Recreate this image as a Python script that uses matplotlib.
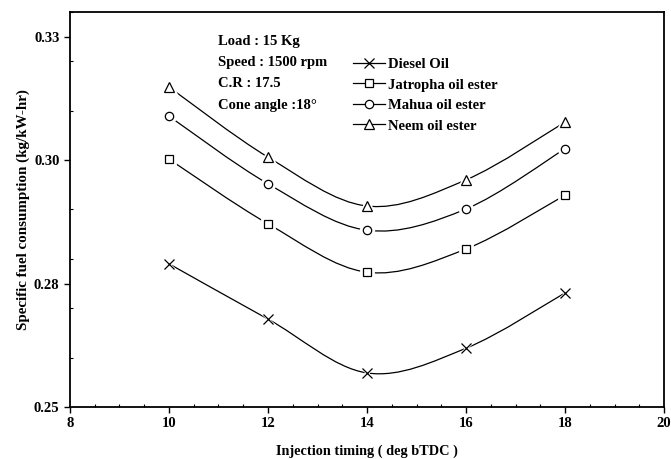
import matplotlib
matplotlib.use('Agg')
import matplotlib.pyplot as plt
import numpy as np
from matplotlib.path import Path
from matplotlib.patches import PathPatch
from matplotlib.lines import Line2D
from matplotlib.ticker import MultipleLocator

timing = [10, 12, 14, 16, 18]
diesel = [0.2790, 0.2678, 0.2569, 0.2619, 0.2731]
jatropha = [0.3002, 0.2871, 0.2773, 0.2820, 0.2929]
mahua = [0.3089, 0.2952, 0.2858, 0.2901, 0.3023]
neem = [0.3148, 0.3006, 0.2907, 0.2960, 0.3077]

series = [
    ('Diesel Oil', diesel, 'x'),
    ('Jatropha oil ester', jatropha, 's'),
    ('Mahua oil ester', mahua, 'o'),
    ('Neem oil ester', neem, '^'),
]

y_ticks = [0.25, 0.275, 0.30, 0.325]
y_labels = ['0.25', '0.28', '0.30', '0.33']
notes = ['Load : 15 Kg', 'Speed : 1500 rpm', 'C.R : 17.5', 'Cone angle :18°']

plt.rcParams['font.family'] = ['Liberation Serif', 'DejaVu Serif']
plt.rcParams['font.weight'] = 'bold'


def smooth_path(x, y, t=1.0 / 6):
    # catmull-rom style bezier through the points
    x = np.asarray(x, float)
    y = np.asarray(y, float)
    n = len(x)
    verts = [(x[0], y[0])]
    codes = [Path.MOVETO]
    for i in range(n - 1):
        i0 = max(i - 1, 0)
        i3 = min(i + 2, n - 1)
        c1 = (x[i] + (x[i + 1] - x[i0]) * t, y[i] + (y[i + 1] - y[i0]) * t)
        c2 = (x[i + 1] - (x[i3] - x[i]) * t, y[i + 1] - (y[i3] - y[i]) * t)
        verts += [c1, c2, (x[i + 1], y[i + 1])]
        codes += [Path.CURVE4] * 3
    return Path(verts, codes)


fig = plt.figure(figsize=(6.71, 4.59), dpi=100)
ax = fig.add_axes([0.1043, 0.1133, 0.8853, 0.8606])

sizes = {'x': 6.5, 's': 6, 'o': 6, '^': 6.5}
handles = []
for name, vals, mk in series:
    ax.add_patch(PathPatch(smooth_path(timing, vals), facecolor='none',
                           edgecolor='black', lw=0.9, zorder=2))
    ms = sizes[mk]
    ax.plot(timing, vals, ls='none', marker=mk, ms=ms + 3, mfc='white',
            mec='white', mew=2, zorder=3)
    ax.plot(timing, vals, ls='none', marker=mk, ms=ms, mfc='white',
            mec='black', mew=0.9, zorder=4)
    handles.append(Line2D([], [], color='black', lw=0.9, marker=mk, ms=ms,
                          mfc='white', mec='black', mew=0.9))

ax.set_xlim(8, 20)
ax.set_ylim(0.25, 0.33)
ax.xaxis.set_major_locator(MultipleLocator(2))
ax.xaxis.set_minor_locator(MultipleLocator(0.5))
ax.set_yticks(y_ticks)
ax.set_yticklabels(y_labels)
ax.yaxis.set_minor_locator(MultipleLocator(0.01))
ax.tick_params(which='major', direction='out', length=4, width=1,
               labelsize=10.5, top=False, right=False)
ax.tick_params(which='minor', direction='in', length=2.5, width=0.8,
               top=False, right=False)
for s in ax.spines.values():
    s.set_linewidth(1.3)

ax.set_xlabel('Injection timing ( deg bTDC )', fontsize=10.3, fontweight='bold',
              labelpad=10)
ax.set_ylabel('Specific fuel consumption (kg/kW-hr)', fontsize=10.8,
              fontweight='bold', labelpad=3)

for i, txt in enumerate(notes):
    ax.text(0.249, 0.925 - i * 0.0535, txt, transform=ax.transAxes,
            fontsize=10.5, fontweight='bold', va='center', ha='left')

ax.legend(handles, [s[0] for s in series], loc='upper left',
          bbox_to_anchor=(0.476, 0.884), frameon=False, fontsize=10.5,
          handlelength=2.2, handletextpad=0.2, labelspacing=0.5,
          borderaxespad=0, borderpad=0)

fig.savefig('out.png', dpi=100)
